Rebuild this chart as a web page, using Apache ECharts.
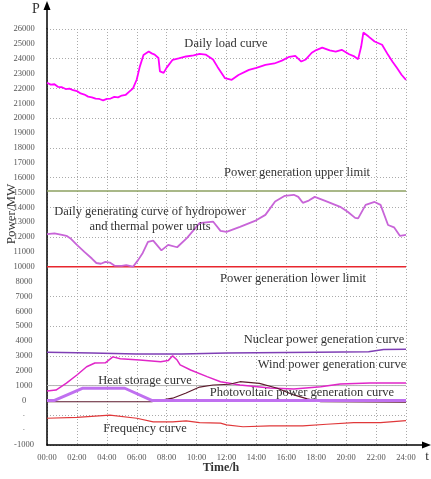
<!DOCTYPE html>
<html>
<head>
<meta charset="utf-8">
<script src="https://cdn.jsdelivr.net/npm/echarts@6/dist/echarts.min.js"></script>
<style>
  html, body { margin: 0; padding: 0; background: #fff; }
  #chart { width: 431px; height: 479px; }
</style>
</head>
<body>
<div id="chart"></div>
<script>
// y tick labels (bottom to top) and the MW value each one stands for
const yTickLabels = ['-1000', '·', '·', '0', '1000', '2000', '3000', '4000', '5000', '6000', '7000', '8000',
  '10000', '11000', '12000', '13000', '14000', '15000', '16000', '17000', '18000', '19000', '20000',
  '21000', '22000', '23000', '24000', '25000', '26000'];
const yTickValues = [-1000, null, null, 0, 1000, 2000, 3000, 4000, 5000, 6000, 7000, 8000,
  10000, 11000, 12000, 13000, 14000, 15000, 16000, 17000, 18000, 19000, 20000,
  21000, 22000, 23000, 24000, 25000, 26000];
const xTickLabels = ['00:00', '02:00', '04:00', '06:00', '08:00', '10:00', '12:00',
  '14:00', '16:00', '18:00', '20:00', '22:00', '24:00'];

// daily load curve (hour, MW)
const loadT = [0, 0.25, 0.5, 0.75, 1, 1.25, 1.5, 1.75, 2, 2.25, 2.5, 2.75, 3, 3.25, 3.5, 3.75, 4, 4.25, 4.5, 4.75,
  5, 5.25, 5.5, 5.75, 6, 6.2, 6.45, 6.8, 7, 7.2, 7.45, 7.55, 7.8, 8, 8.4, 8.8, 9.3, 9.8, 10.2, 10.6, 11.1, 11.4,
  11.9, 12.35, 12.8, 13.5, 14, 14.6, 15.2, 15.7, 16.2, 16.6, 17.0, 17.3, 17.7, 18.0, 18.4, 18.9, 19.3, 19.7,
  20.2, 20.5, 20.8, 21.0, 21.15, 21.5, 21.9, 22.4, 22.8, 23.1, 23.4, 23.7, 24];
const loadP = [22380, 22260, 22280, 22100, 22080, 21960, 21990, 21880, 21820, 21660, 21590, 21450, 21400, 21310,
  21290, 21200, 21300, 21320, 21430, 21400, 21520, 21560, 21780, 22000, 22600, 23450, 24250, 24480, 24360, 24280,
  24050, 23150, 23050, 23400, 23930, 24020, 24150, 24220, 24330, 24280, 23950, 23450, 22690, 22580, 22900, 23250,
  23380, 23580, 23680, 23870, 24130, 24190, 23810, 23950, 24400, 24580, 24750, 24560, 24480, 24600, 24300, 24180,
  23970, 24800, 25760, 25490, 25160, 24940, 24260, 23800, 23370, 22920, 22580];

// hydropower + thermal units
const hydroT = [0, 0.5, 1, 1.3, 1.6, 2, 2.5, 3, 3.3, 3.6, 3.9, 4.2, 4.5, 5, 5.3, 5.75, 6.1, 6.4, 6.75, 7.1, 7.65,
  8.1, 8.7, 9.35, 10.2, 11.1, 11.6, 12, 12.9, 13.9, 14.6, 15.25, 15.9, 16.5, 16.8, 17.1, 17.5, 17.9, 18.6, 19.6,
  20.1, 20.6, 20.8, 21.3, 21.9, 22.3, 22.8, 23.2, 23.6, 24];
const hydroP = [12200, 12250, 12150, 12080, 11880, 11470, 11000, 10550, 10250, 10200, 10320, 10280, 10080, 10050,
  10100, 10000, 10460, 10930, 11670, 11760, 11100, 11470, 11310, 11920, 12930, 13040, 12410, 12340, 12680, 13080,
  13490, 14390, 14770, 14840, 14700, 14300, 14450, 14700, 14430, 14030, 13700, 13290, 13250, 14160, 14360, 14160,
  12810, 12650, 12070, 12140];

const upperLimit = 15100;
const lowerLimit = 10000;
const heatCap = 1000;

const nuclearT = [0, 3, 6, 9, 12, 18, 21.5, 22.5, 24];
const nuclearP = [3240, 3200, 3130, 3130, 3200, 3250, 3280, 3430, 3450];

const windT = [0, 0.6, 1.3, 2, 2.65, 3.2, 3.9, 4.4, 4.9, 6.2, 7.6, 8.1, 8.4, 8.7, 8.9, 9.6, 10.7, 11.6, 12.9,
  14.9, 16.5, 18.3, 19.6, 21.6, 24];
const windP = [640, 700, 1170, 1710, 2270, 2520, 2530, 2930, 2800, 2720, 2610, 2680, 3000, 2720, 2390, 2050,
  1600, 1260, 1040, 840, 770, 920, 1100, 1170, 1170];

const heatT = [0, 0.5, 2.4, 5.2, 7, 24];
const heatP = [0, 0, 820, 820, 0, 0];

const pvT = [0, 7, 8.4, 9.3, 10.2, 11.1, 12.2, 12.9, 14.2, 15.4, 16.5, 17.4, 18.3, 24];
const pvP = [-30, -30, 150, 500, 900, 1040, 1090, 1260, 1150, 820, 370, 100, -30, -40];

const freqT = [0, 2, 4.2, 6, 7.1, 8.4, 9.3, 10.2, 11.6, 12, 13.1, 14.9, 17.1, 18.7, 20.5, 22.3, 24];
const freqP = [-400, -380, -330, -400, -480, -480, -460, -500, -510, -550, -590, -570, -570, -535, -500, -500, -455];

// the printed scale is not linear: map MW to the tick slot it falls between
const known = [];
yTickValues.forEach((v, i) => { if (v !== null) known.push([i, v]); });
function toAxis(mw) {
  for (let k = 0; k < known.length - 1; k++) {
    const a = known[k], b = known[k + 1];
    if (mw <= b[1] || k === known.length - 2) {
      return a[0] + (mw - a[1]) / (b[1] - a[1]) * (b[0] - a[0]);
    }
  }
}
function pairs(ts, ps) {
  return ts.map((t, i) => [t, toAxis(ps[i])]);
}
function flat(mw) {
  return [[0, toAxis(mw)], [24, toAxis(mw)]];
}

function line(name, data, color, width, z) {
  return {
    name: name,
    type: 'line',
    data: data,
    showSymbol: false,
    z: z || 2,
    lineStyle: { color: color, width: width },
    itemStyle: { color: color }
  };
}

const chart = echarts.init(document.getElementById('chart'), null, { renderer: 'canvas' });
const serif = '"Liberation Serif", "DejaVu Serif", serif';

function label(text, x, y, font, extra) {
  return Object.assign({
    type: 'text',
    x: x,
    y: y,
    z: 100,
    style: {
      text: text,
      fill: '#333',
      font: font + ' ' + serif,
      align: 'center',
      verticalAlign: 'middle',
      textAlign: 'center',
      textVerticalAlign: 'middle'
    }
  }, extra || {});
}

const option = {
  animation: false,
  grid: { left: 47, right: 25, top: 29, bottom: 34 },
  xAxis: {
    type: 'value',
    min: 0,
    max: 24,
    interval: 2,
    axisLine: { show: true, lineStyle: { color: '#000', width: 1.5 } },
    axisTick: { show: false },
    axisLabel: {
      color: '#555',
      fontFamily: serif,
      fontSize: 8.5,
      margin: 8,
      formatter: v => xTickLabels[Math.round(v / 2)]
    },
    splitLine: { show: true, lineStyle: { color: '#aaa', type: [1, 2], width: 1 } }
  },
  yAxis: [
    {
      type: 'value',
      min: 0,
      max: 28,
      interval: 1,
      axisLine: { show: true, lineStyle: { color: '#000', width: 1.5 } },
      axisTick: { show: false },
      axisLabel: {
        color: '#555',
        fontFamily: serif,
        fontSize: 8.5,
        align: 'center',
        margin: 23,
        formatter: v => yTickLabels[Math.round(v)]
      },
      splitLine: { show: false }
    },
    {
      type: 'value',
      min: 0,
      max: 28,
      interval: 2,
      position: 'left',
      axisLine: { show: false },
      axisTick: { show: false },
      axisLabel: { show: false },
      splitLine: { show: true, lineStyle: { color: '#aaa', type: [1, 2], width: 1 } }
    }
  ],
  series: [
    line('heat cap', flat(heatCap), '#b4b4b4', 1, 1),
    line('upper', flat(upperLimit), '#8ca060', 1.5),
    line('lower', flat(lowerLimit), '#e8262e', 1.5),
    line('hydro', pairs(hydroT, hydroP), '#c865d8', 1.8),
    line('load', pairs(loadT, loadP), '#ff00ff', 1.8),
    line('nuclear', pairs(nuclearT, nuclearP), '#7f3fb5', 1.5),
    line('wind', pairs(windT, windP), '#e026c8', 1.5),
    line('pv', pairs(pvT, pvP), '#5c1a2c', 1.2),
    line('heat', pairs(heatT, heatP), '#c070f0', 3, 3),
    line('frequency', pairs(freqT, freqP), '#e0383a', 1.2)
  ],
  graphic: [
    // axis extensions with arrow heads
    { type: 'line', shape: { x1: 47, y1: 29, x2: 47, y2: 6 }, style: { stroke: '#000', lineWidth: 1.5 } },
    { type: 'polygon', shape: { points: [[47, 1], [43.5, 10], [50.5, 10]] }, style: { fill: '#000' } },
    { type: 'line', shape: { x1: 406, y1: 445, x2: 426, y2: 445 }, style: { stroke: '#000', lineWidth: 1.5 } },
    { type: 'polygon', shape: { points: [[431, 445], [422, 441.5], [422, 448.5]] }, style: { fill: '#000' } },
    label('P', 36, 9, '14px'),
    label('t', 427, 457, '13px'),
    label('Time/h', 221, 468, 'bold 12px'),
    label('Power/MW', 12, 214, '13px', { rotation: Math.PI / 2 }),
    label('Daily load curve', 226, 44, '12.5px'),
    label('Power generation upper limit', 297, 173, '12.5px'),
    label('Daily generating curve of hydropower', 150, 212, '12.5px'),
    label('and thermal power units', 150, 227, '12.5px'),
    label('Power generation lower limit', 293, 279, '12.5px'),
    label('Nuclear power generation curve', 324, 340, '12.5px'),
    label('Wind power generation curve', 332, 365, '12.5px'),
    label('Heat storage curve', 145, 381, '12.5px'),
    label('Photovoltaic power generation curve', 302, 393, '12.5px'),
    label('Frequency curve', 145, 429, '12.5px')
  ]
};
chart.setOption(option);
</script>
</body>
</html>
